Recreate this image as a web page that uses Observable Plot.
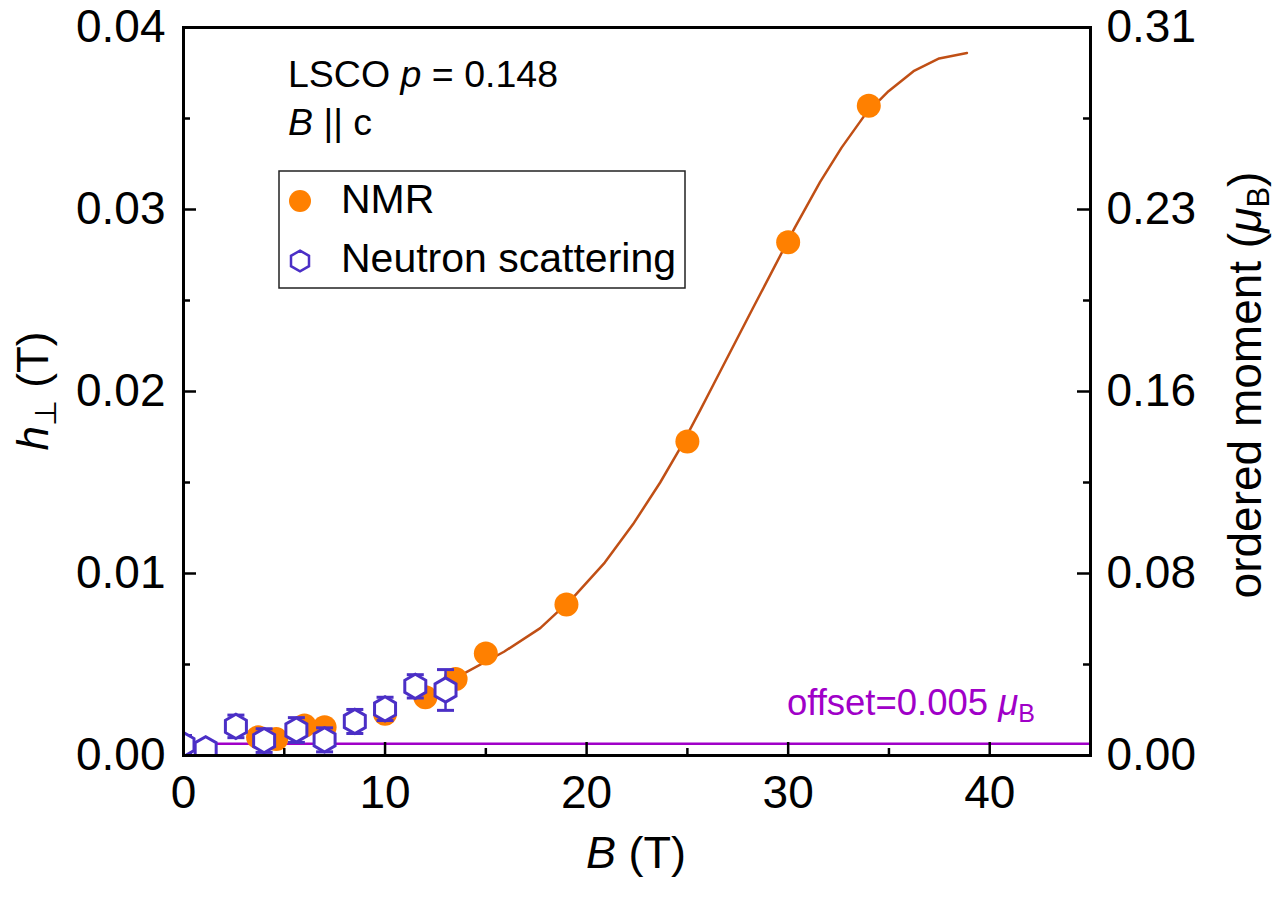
<!DOCTYPE html>
<html><head><meta charset="utf-8">
<script src="https://cdn.jsdelivr.net/npm/d3@7"></script>
<script src="https://cdn.jsdelivr.net/npm/@observablehq/plot@0.6"></script>
<style>
body{margin:0;background:#fff;}
#wrap{position:relative;width:1281px;height:897px;font-family:"Liberation Sans",Arial,sans-serif;color:#000;}
#wrap > svg{position:absolute;left:0;top:0;}
</style></head><body><div id="wrap"></div>
<script>
// ---- data ----
const nmrB = [3.7, 4.6, 6.0, 7.0, 10.0, 12.0, 13.5, 15.0, 19.0, 25.0, 30.0, 34.0];
const nmrH = [0.0010, 0.0009, 0.00165, 0.00155, 0.0023, 0.0032, 0.0042, 0.0056, 0.0083, 0.01725, 0.0282, 0.0357];
const neutronB = [0.0, 1.1, 2.6, 4.0, 5.6, 7.0, 8.5, 10.0, 11.5, 13.0];
const neutronH = [0.0006, 0.00037, 0.0016, 0.00082, 0.0014, 0.00086, 0.00187, 0.00256, 0.0038, 0.0036];
const neutronErr = [0.0005, 0.0004, 0.00062, 0.00065, 0.00068, 0.00066, 0.00066, 0.00064, 0.00064, 0.00112];
const fitB = [13.5, 13.9, 15.9, 17.7, 19.35, 20.9, 22.3, 23.65, 24.6, 25.65, 26.3, 28.26, 30.33, 31.58, 32.65, 33.81, 34.98, 36.22, 37.49, 38.87];
const fitH = [0.0042, 0.0045, 0.0057, 0.0070, 0.0087, 0.0106, 0.0127, 0.0150, 0.0168, 0.0190, 0.0204, 0.0246, 0.0290, 0.0315, 0.0334, 0.0352, 0.0365, 0.0376, 0.0383, 0.0386];
const xMajor = [0, 10, 20, 30, 40];
const xMinor = [5, 15, 25, 35];
const yMajor = [0, 0.01, 0.02, 0.03, 0.04];
const yMinor = [0.005, 0.015, 0.025, 0.035];
const yLeftLabels = ["0.00", "0.01", "0.02", "0.03", "0.04"];
const yRightLabels = ["0.00", "0.08", "0.16", "0.23", "0.31"];
const offsetMoment = 0.005;
const momentTop = 0.31;
const hTop = 0.04;
const offsetH = offsetMoment / momentTop * hTop;

// ---- tables ----
const nmr = nmrB.map((b, i) => ({b, h: nmrH[i]}));
const neutron = neutronB.map((b, i) => ({b, h: neutronH[i], e: neutronErr[i]}));
const fit = fitB.map((b, i) => ({b, h: fitH[i]}));

const W = 1281, H = 897, mL = 183, mR = 191, mT = 27, mB = 142;
const innerH = H - mT - mB, innerW = W - mL - mR;
const ORANGE = "#ff8000", PURPLE = "#4b2fc6", FIT = "#c04f15", OFFSET = "#a000c8";
const capSymbol = {draw(ctx, size) { const r = Math.sqrt(size / Math.PI); ctx.moveTo(-r, 0); ctx.lineTo(r, 0); }};
const majLen = 13, minLen = 7, tw = 2.5;

const plot = Plot.plot({
  width: W, height: H,
  marginLeft: mL, marginRight: mR, marginTop: mT, marginBottom: mB,
  style: {fontFamily: '"Liberation Sans", Arial, sans-serif', fontSize: "46px", color: "#000", background: "#fff"},
  x: {domain: [0, 45], label: null},
  y: {domain: [0, hTop], label: null},
  marks: [
    Plot.ruleY([offsetH], {stroke: OFFSET, strokeWidth: 2.5}),
    Plot.line(fit, {x: "b", y: "h", stroke: FIT, strokeWidth: 2.5}),
    Plot.dot(nmr, {x: "b", y: "h", r: 12, fill: ORANGE, stroke: null}),
    Plot.ruleX(neutron, {x: "b", y1: d => d.h - d.e, y2: d => d.h + d.e, stroke: PURPLE, strokeWidth: 2.5, clip: true}),
    Plot.dot(neutron, {x: "b", y: d => d.h + d.e, symbol: capSymbol, r: 8.5, stroke: PURPLE, strokeWidth: 3, clip: true}),
    Plot.dot(neutron, {x: "b", y: d => d.h - d.e, symbol: capSymbol, r: 8.5, stroke: PURPLE, strokeWidth: 3, clip: true}),
    Plot.dot(neutron, {x: "b", y: "h", symbol: "hexagon", r: 10.5, fill: "white", stroke: PURPLE, strokeWidth: 3, clip: true}),
    // inward ticks
    Plot.tickX(xMajor, {x: d => d, insetTop: innerH - majLen, stroke: "#000", strokeWidth: tw}),
    Plot.tickX(xMinor, {x: d => d, insetTop: innerH - minLen, stroke: "#000", strokeWidth: tw}),
    Plot.tickY(yMajor, {y: d => d, insetRight: innerW - majLen, stroke: "#000", strokeWidth: tw}),
    Plot.tickY(yMinor, {y: d => d, insetRight: innerW - minLen, stroke: "#000", strokeWidth: tw}),
    Plot.tickY(yMajor, {y: d => d, insetLeft: innerW - majLen, stroke: "#000", strokeWidth: tw}),
    Plot.tickY(yMinor, {y: d => d, insetLeft: innerW - minLen, stroke: "#000", strokeWidth: tw}),
    Plot.frame({stroke: "#000", strokeWidth: 3}),
    Plot.axisX(xMajor, {tickSize: 0, tickPadding: 20, fontSize: 46, label: null}),
    Plot.axisY(yMajor, {anchor: "left", tickSize: 0, tickPadding: 18, fontSize: 46, label: null,
      tickFormat: d => yLeftLabels[yMajor.indexOf(d)]}),
    Plot.axisY(yMajor, {anchor: "right", tickSize: 0, tickPadding: 16, fontSize: 46, label: null,
      tickFormat: d => yRightLabels[yMajor.indexOf(d)]})
  ]
});
const wrap = document.getElementById("wrap");
wrap.appendChild(plot);

// ---- overlay: titles, annotations, legend ----
const rx = 9, ry = rx * 2 / Math.sqrt(3), hy = ry / 2;
const hexPath = `M0,${-ry}L${rx},${-hy}L${rx},${hy}L0,${ry}L${-rx},${hy}L${-rx},${-hy}Z`;
const ov = `
<svg xmlns="http://www.w3.org/2000/svg" width="${W}" height="${H}" style="pointer-events:none" font-family='"Liberation Sans", Arial, sans-serif'>
  <text transform="translate(48,391) rotate(-90)" text-anchor="middle" font-size="44"><tspan font-style="italic">h</tspan><tspan font-size="30" dy="8">⊥</tspan><tspan dy="-8"> (T)</tspan></text>
  <text transform="translate(1261,385) rotate(-90)" text-anchor="middle" font-size="46">ordered moment (<tspan font-style="italic">μ</tspan><tspan font-size="31" dy="8">B</tspan><tspan dy="-8">)</tspan></text>
  <text x="636" y="868" text-anchor="middle" font-size="45"><tspan font-style="italic">B</tspan> (T)</text>
  <text x="288" y="87" font-size="37.5">LSCO <tspan font-style="italic">p</tspan> = 0.148</text>
  <text x="288" y="135" font-size="37.5"><tspan font-style="italic">B</tspan> || c</text>
  <rect x="279" y="171" width="406" height="117" fill="#fff" stroke="#222" stroke-width="1.5"/>
  <circle cx="300" cy="201" r="11" fill="${ORANGE}"/>
  <path transform="translate(300,261)" d="${hexPath}" fill="#fff" stroke="${PURPLE}" stroke-width="2.5"/>
  <text x="341" y="213" font-size="41">NMR</text>
  <text x="341" y="272" font-size="41">Neutron scattering</text>
  <text x="1035" y="715" text-anchor="end" font-size="36.5" fill="${OFFSET}">offset=0.005 <tspan font-style="italic">μ</tspan><tspan font-size="25" dy="7">B</tspan></text>
</svg>`;
wrap.insertAdjacentHTML("beforeend", ov);
</script>
</body></html>
